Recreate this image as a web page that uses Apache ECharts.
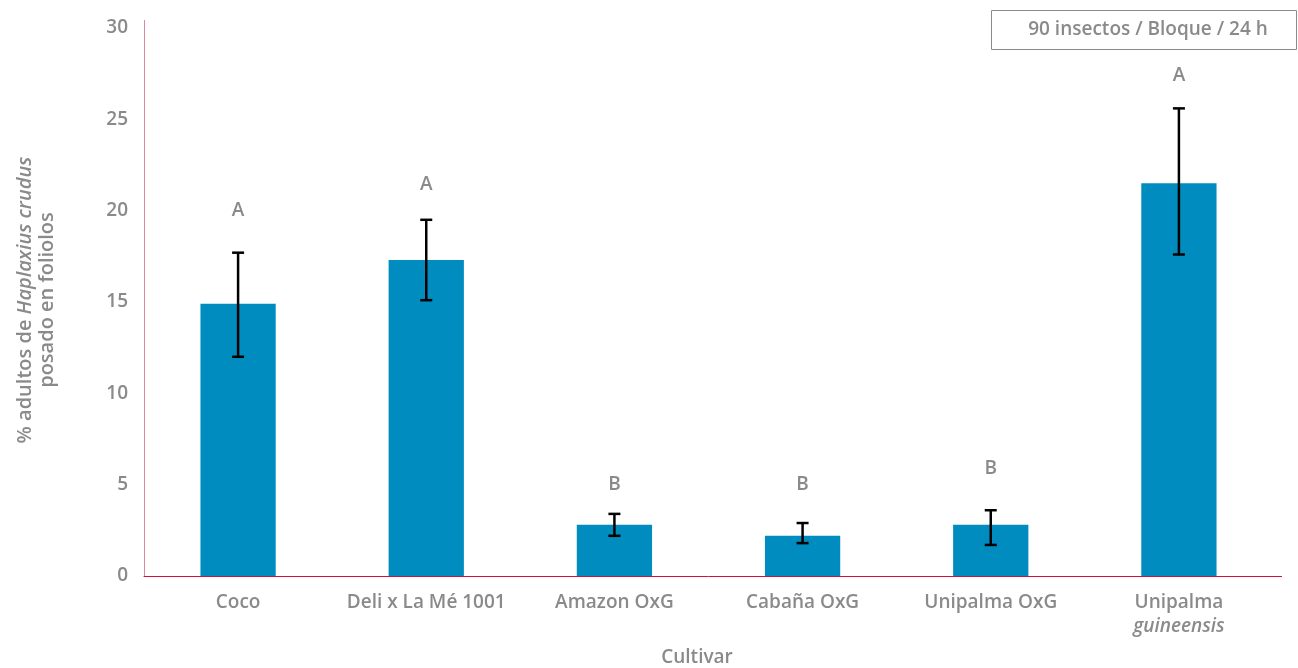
<!DOCTYPE html>
<html>
<head>
<meta charset="utf-8">
<script src="https://cdn.jsdelivr.net/npm/echarts@6/dist/echarts.min.js"></script>
<style>
  html, body { margin: 0; padding: 0; background: #ffffff; }
  #chart { width: 1298px; height: 668px; }
</style>
</head>
<body>
<div id="chart"></div>
<script>
// Cultivars tested and mean % of Haplaxius crudus adults settled on leaflets
const categories = ['Coco', 'Deli x La Mé 1001', 'Amazon OxG', 'Cabaña OxG', 'Unipalma OxG', 'Unipalma\nguineensis'];
const means = [14.9, 17.3, 2.8, 2.2, 2.8, 21.5];
const errLow = [12.0, 15.1, 2.2, 1.8, 1.7, 17.6];
const errHigh = [17.7, 19.5, 3.4, 2.9, 3.6, 25.6];
const groups = ['A', 'A', 'B', 'B', 'B', 'A'];
const groupAt = [20.0, 21.4, 5.0, 5.0, 5.9, 27.4];
const yTicks = [0, 5, 10, 15, 20, 25, 30];

const GREY = '#8a8a8a';
const FONT = '"Open Sans", "Noto Sans", sans-serif';

const errData = categories.map((c, i) => [i, errLow[i], errHigh[i]]);
const letterData = categories.map((c, i) => [i, groupAt[i], groups[i]]);

const chart = echarts.init(document.getElementById('chart'), null, { renderer: 'canvas' });

chart.setOption({
  backgroundColor: '#ffffff',
  animation: false,
  grid: { left: 144, right: 25, top: 28, bottom: 92, containLabel: false },
  xAxis: {
    type: 'category',
    data: categories,
    axisLine: { show: true, lineStyle: { color: '#d0103e', width: 1 } },
    axisTick: { show: false },
    axisLabel: {
      interval: 0,
      hideOverlap: false,
      margin: 15,
      color: GREY,
      fontFamily: FONT,
      fontWeight: 600,
      fontSize: 19,
      lineHeight: 24,
      formatter: function (v) {
        const parts = v.split('\n');
        if (parts.length > 1) return parts[0] + '\n{it|' + parts[1] + '}';
        return v;
      },
      rich: {
        it: { fontStyle: 'italic', color: GREY, fontFamily: FONT, fontWeight: 600, fontSize: 19, lineHeight: 24 }
      }
    }
  },
  yAxis: {
    type: 'value',
    min: yTicks[0],
    max: yTicks[yTicks.length - 1],
    interval: 5,
    axisLine: { show: true, lineStyle: { color: '#e0869a', width: 1 } },
    axisTick: { show: false },
    splitLine: { show: false },
    axisLabel: { margin: 16, color: GREY, fontFamily: FONT, fontWeight: 600, fontSize: 19 }
  },
  series: [
    {
      type: 'bar',
      data: means,
      barWidth: '40%',
      itemStyle: { color: '#008cbf' },
      z: 2
    },
    {
      type: 'custom',
      data: errData,
      z: 5,
      renderItem: function (params, api) {
        const x = api.coord([api.value(0), 0])[0];
        const lo = api.coord([api.value(0), api.value(1)])[1];
        const hi = api.coord([api.value(0), api.value(2)])[1];
        const cap = 6;
        const style = { stroke: '#000000', lineWidth: 2.5 };
        return {
          type: 'group',
          children: [
            { type: 'line', shape: { x1: x, y1: lo, x2: x, y2: hi }, style: style },
            { type: 'line', shape: { x1: x - cap, y1: hi, x2: x + cap, y2: hi }, style: style },
            { type: 'line', shape: { x1: x - cap, y1: lo, x2: x + cap, y2: lo }, style: style }
          ]
        };
      }
    },
    {
      type: 'custom',
      data: letterData,
      z: 6,
      renderItem: function (params, api) {
        const p = api.coord([api.value(0), api.value(1)]);
        return {
          type: 'text',
          x: p[0],
          y: p[1],
          style: {
            text: groups[params.dataIndex],
            fill: GREY,
            font: '600 19px ' + FONT,
            align: 'center',
            verticalAlign: 'middle'
          }
        };
      }
    }
  ],
  graphic: [
    // extensions of both axis lines past the plotted range
    { type: 'line', shape: { x1: 144.5, y1: 20, x2: 144.5, y2: 28 }, style: { stroke: '#e0869a', lineWidth: 1 } },
    { type: 'line', shape: { x1: 1272, y1: 576.5, x2: 1282, y2: 576.5 }, style: { stroke: '#d0103e', lineWidth: 1 } },
    // y-axis title (two lines, genus/species in italics)
    {
      type: 'text',
      x: 25,
      y: 300,
      rotation: Math.PI / 2,
      style: {
        text: '% adultos de {it|Haplaxius crudus}',
        rich: { it: { fontStyle: 'italic', fill: GREY, font: 'italic 600 20px ' + FONT } },
        fill: GREY,
        font: '600 20px ' + FONT,
        align: 'center',
        verticalAlign: 'middle'
      }
    },
    {
      type: 'text',
      x: 47,
      y: 300,
      rotation: Math.PI / 2,
      style: {
        text: 'posado en foliolos',
        fill: GREY,
        font: '600 20px ' + FONT,
        align: 'center',
        verticalAlign: 'middle'
      }
    },
    // x-axis title
    {
      type: 'text',
      x: 697,
      y: 658,
      style: { text: 'Cultivar', fill: GREY, font: '600 19px ' + FONT, align: 'center', verticalAlign: 'middle' }
    },
    // annotation box
    {
      type: 'rect',
      shape: { x: 991.5, y: 10.5, width: 305, height: 39 },
      style: { fill: '#ffffff', stroke: '#8a8a8a', lineWidth: 1 }
    },
    {
      type: 'text',
      x: 1148,
      y: 30,
      style: { text: '90 insectos / Bloque / 24 h', fill: GREY, font: '600 19px ' + FONT, align: 'center', verticalAlign: 'middle' }
    }
  ]
});
</script>
</body>
</html>
